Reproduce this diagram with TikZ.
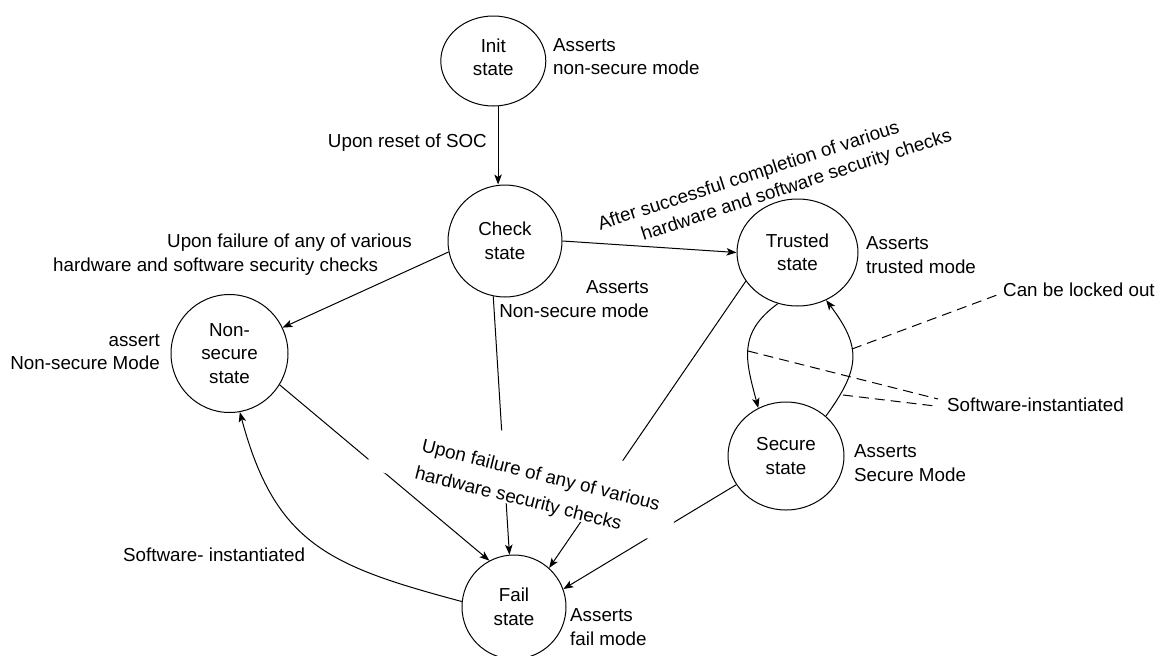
\documentclass[tikz,border=0pt]{standalone}
\usepackage{fontspec}
\setmainfont{Liberation Sans}
\usetikzlibrary{arrows.meta,shapes.geometric}

\begin{document}
\begin{tikzpicture}[x=1pt,y=-1pt,
  every node/.style={font=\fontsize{18.8}{23.5}\selectfont, inner sep=0pt},
  state/.style={ellipse, draw, line width=1pt, align=center},
  note/.style={align=left},
  rnote/.style={align=right},
  link/.style={line width=1pt, -{Stealth[length=10pt,width=7.5pt,inset=2.5pt]}},
  hint/.style={line width=1pt, dash pattern=on 10pt off 6pt},
  labelbg/.style={fill=white, inner sep=0pt}
]
\useasboundingbox (0,0) rectangle (1157,656);

% states
\node[state, minimum width=105pt, minimum height=90pt]  (init)    at (493.3,61)    {Init\\state\rule[-8pt]{0pt}{0pt}};
\node[state, minimum width=114pt, minimum height=112pt] (check)   at (505,241)     {Check\\state};
\node[state, minimum width=121pt, minimum height=107pt] (trusted) at (797.5,252.5) {Trusted\\state};
\node[state, minimum width=117pt, minimum height=118pt] (nonsec)  at (229.5,353.5) {Non-\\secure\\state};
\node[state, minimum width=116pt, minimum height=108pt] (secure)  at (786,456)     {Secure\\state};
\node[state, minimum width=104pt, minimum height=104pt] (fail)    at (514,607)     {Fail\\state};

% mode notes beside the states
\node[note, anchor=west]  (initnote)    at (553,56.7) {Asserts\\non-secure mode};
\node[rnote, anchor=east] (checknote)   at (649,299)  {Asserts\\Non-secure mode};
\node[note, anchor=west]  (trustednote) at (866,255)  {Asserts\\trusted mode};
\node[rnote, anchor=east] (nonsecnote)  at (160,352)  {assert\\Non-secure Mode};
\node[note, anchor=west]  (securenote)  at (854,463)  {Asserts\\Secure Mode};
\node[note, anchor=west]  (failnote)    at (570,627)  {Asserts\\fail mode};

% transition labels
\node[anchor=east] (resetlbl) at (487,143) {Upon reset of SOC};
\node[note, anchor=west] (nsfaillbl) at (53,254.6)
  {\hspace*{114pt}Upon failure of any of various\\hardware and software security checks};
\node[note, anchor=north west, rotate=18] (oklbl) at (595.8,217)
  {After successful completion of various\\\hspace*{38pt}hardware and software security checks};
\node[anchor=west] (swleft) at (123,555) {Software- instantiated};
\node[anchor=west] (lock)   at (1003,290) {Can be locked out};
\node[anchor=west] (swlbl)  at (947,405)  {Software-instantiated};

% transitions
\draw[link] (init.-84) -- (init.-84 |- check.north);
\draw[link] (check.east) -- (trusted.west);
\draw[link] (check.191) -- (nonsec.26);
\draw[link] (nonsec.-32) -- (fail.118);
\draw[link] (check.258) -- (fail.95);
\draw[link] (trusted.209) -- (fail.48);
\draw[link] (secure.210) -- (fail.20);
\draw[link] (trusted.249) to[out=216,in=105,looseness=1.2] (secure.120);
\draw[link] (secure.45) to[out=54,in=-53,looseness=1.3] (trusted.-59);
\draw[link] (fail.174) to[out=165,in=-75,looseness=1.2] (nonsec.-80);

% callouts to the trusted/secure loop
\coordinate (lockend) at (852,349);
\coordinate (swA) at (748,351);
\coordinate (swB) at (843,395);
\draw[hint] (lockend) -- ([shift={(-6,5)}]lock.west);
\draw[hint] (swA) -- ([shift={(-9,-6)}]swlbl.west);
\draw[hint] (swB) -- ([shift={(-12,1)}]swlbl.west);

% fail label with its white backing
\node[labelbg, rotate=-14, minimum width=311.5pt, minimum height=69.5pt] (failbg) at (525.8,472.3) {};
\node[note, anchor=north west, rotate=-14, font=\fontsize{18.8}{28}\selectfont] (faillbl) at (424,438)
  {Upon failure of any of various\\hardware security checks};
\end{tikzpicture}
\end{document}
